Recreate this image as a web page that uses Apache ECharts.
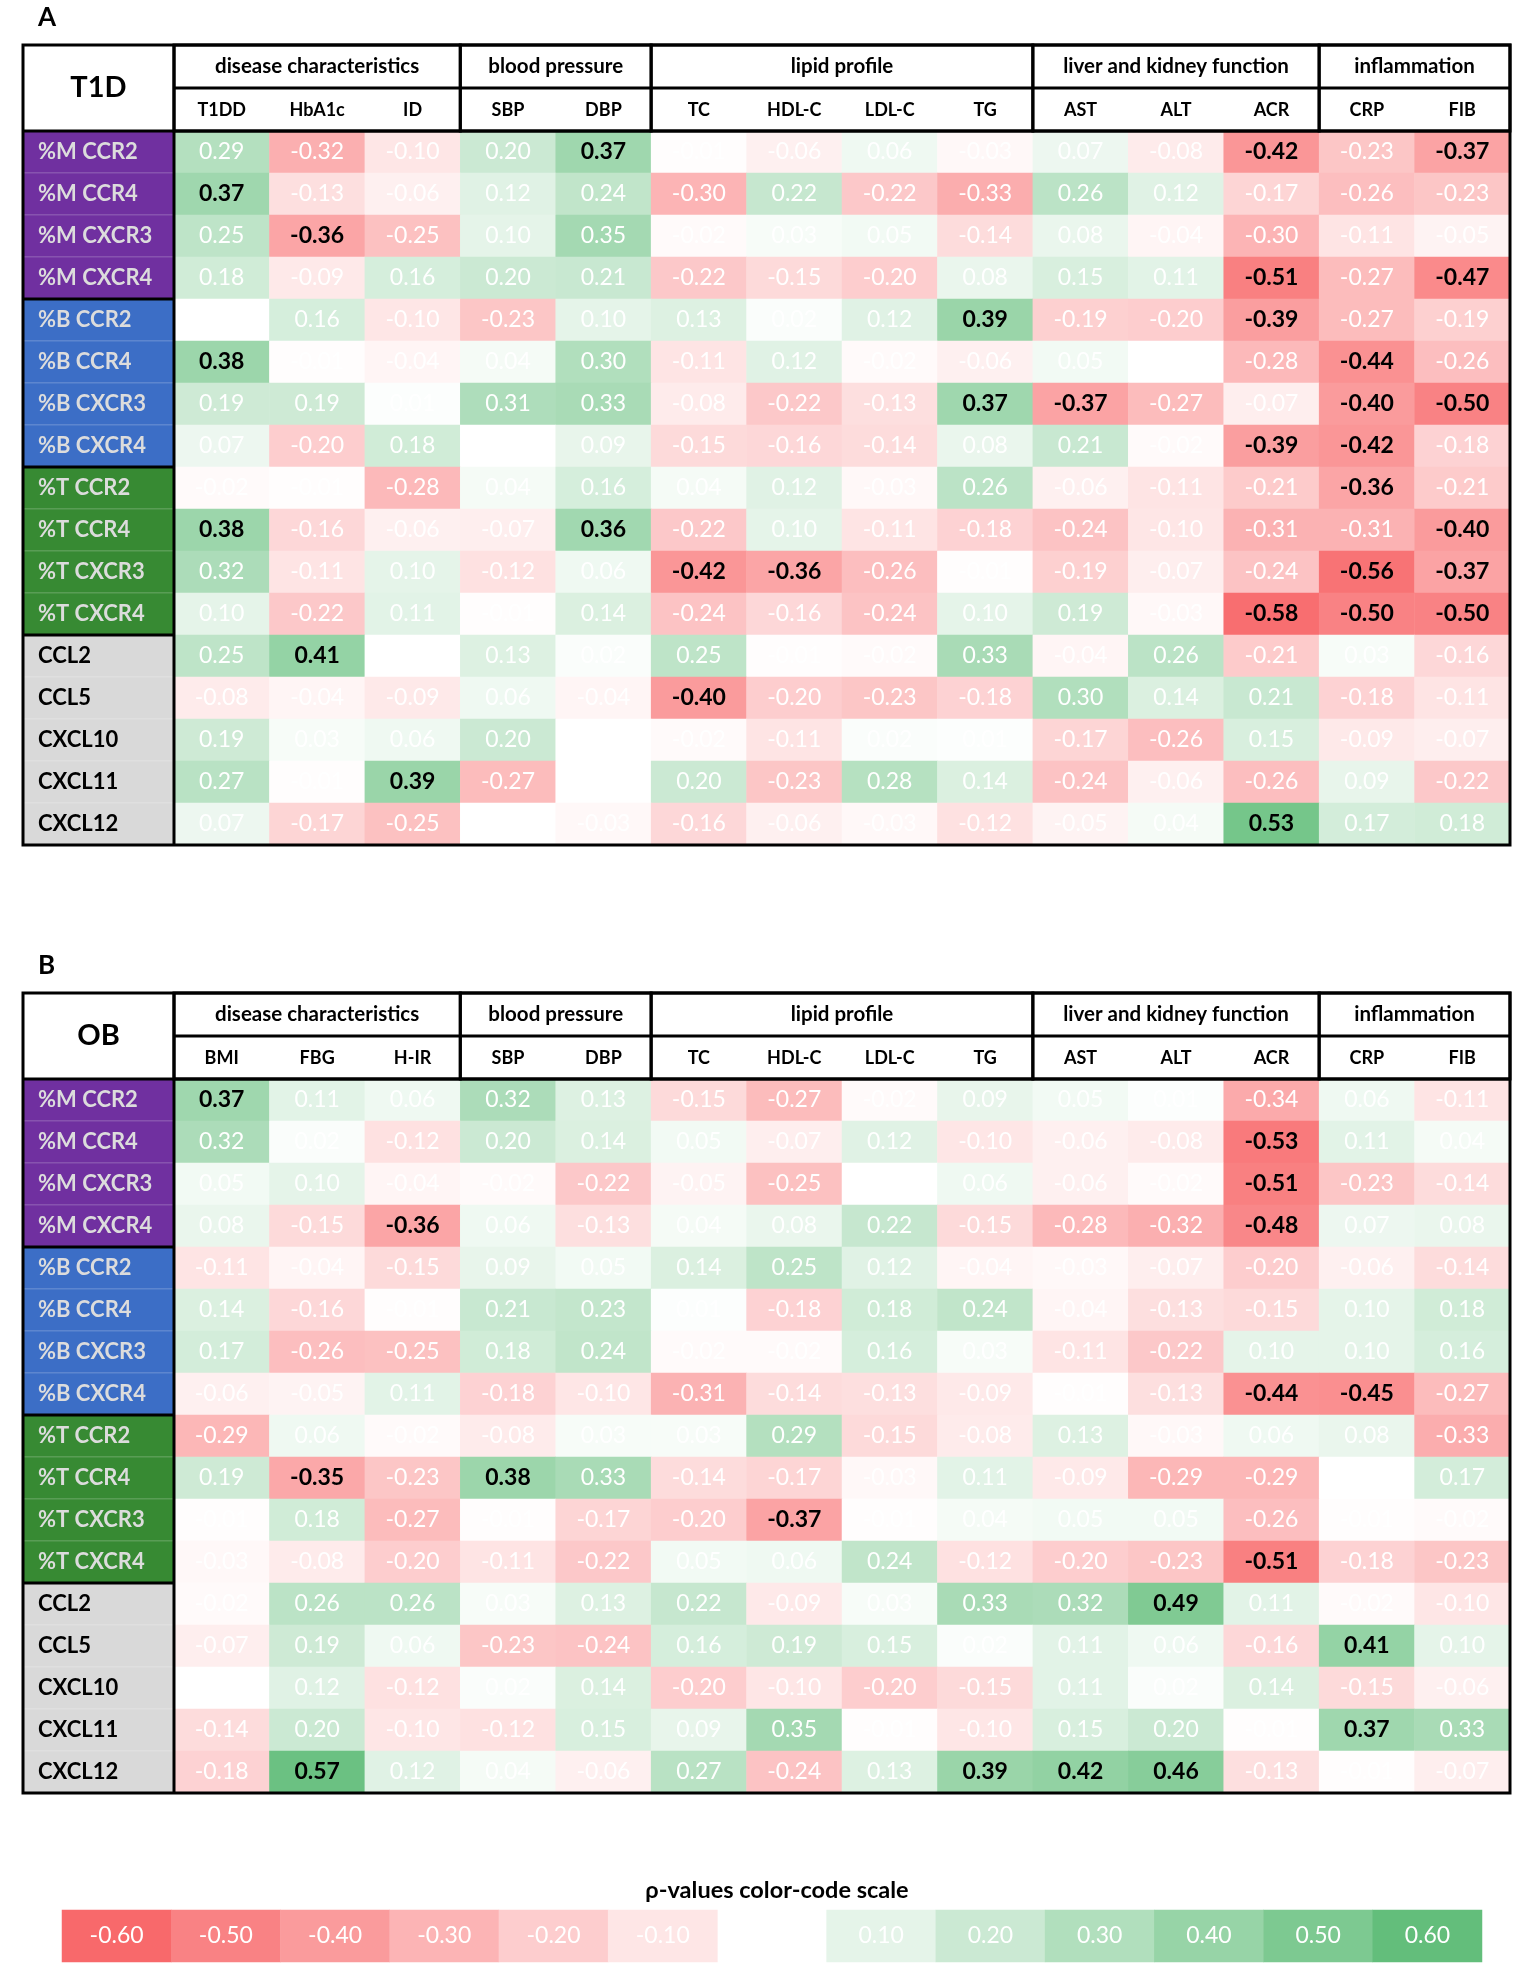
<!DOCTYPE html>
<html>
<head>
<meta charset="utf-8">
<script src="https://cdn.jsdelivr.net/npm/echarts@6/dist/echarts.min.js"></script>
<style>
  html, body { margin: 0; padding: 0; background: #fff; }
  #chart { width: 1535px; height: 1985px; }
</style>
</head>
<body>
<div id="chart"></div>
<script>
// Two correlation tables (T1D, OB) drawn as heatmaps, plus the rho colour scale.
const rowLabels = ["%M CCR2", "%M CCR4", "%M CXCR3", "%M CXCR4",
  "%B CCR2", "%B CCR4", "%B CXCR3", "%B CXCR4",
  "%T CCR2", "%T CCR4", "%T CXCR3", "%T CXCR4",
  "CCL2", "CCL5", "CXCL10", "CXCL11", "CXCL12"]
const rowGroupSizes = [4, 4, 4, 5]

const groupNames = ["disease characteristics", "blood pressure", "lipid profile",
  "liver and kidney function", "inflammation"]
const groupSizes = [3, 2, 4, 3, 2]

const colsA = ["T1DD", "HbA1c", "ID", "SBP", "DBP", "TC", "HDL-C", "LDL-C", "TG", "AST", "ALT", "ACR", "CRP", "FIB"]
const colsB = ["BMI", "FBG", "H-IR", "SBP", "DBP", "TC", "HDL-C", "LDL-C", "TG", "AST", "ALT", "ACR", "CRP", "FIB"]

const valuesA = [
  [0.29, -0.32, -0.10, 0.20, 0.37, -0.01, -0.06, 0.06, -0.03, 0.07, -0.08, -0.42, -0.23, -0.37],
  [0.37, -0.13, -0.06, 0.12, 0.24, -0.30, 0.22, -0.22, -0.33, 0.26, 0.12, -0.17, -0.26, -0.23],
  [0.25, -0.36, -0.25, 0.10, 0.35, -0.02, 0.03, 0.05, -0.14, 0.08, -0.04, -0.30, -0.11, -0.05],
  [0.18, -0.09, 0.16, 0.20, 0.21, -0.22, -0.15, -0.20, 0.08, 0.15, 0.11, -0.51, -0.27, -0.47],
  [0.00, 0.16, -0.10, -0.23, 0.10, 0.13, 0.02, 0.12, 0.39, -0.19, -0.20, -0.39, -0.27, -0.19],
  [0.38, -0.01, -0.04, 0.04, 0.30, -0.11, 0.12, -0.02, -0.06, 0.05, 0.00, -0.28, -0.44, -0.26],
  [0.19, 0.19, 0.01, 0.31, 0.33, -0.08, -0.22, -0.13, 0.37, -0.37, -0.27, -0.07, -0.40, -0.50],
  [0.07, -0.20, 0.18, 0.00, 0.09, -0.15, -0.16, -0.14, 0.08, 0.21, -0.02, -0.39, -0.42, -0.18],
  [-0.02, -0.01, -0.28, 0.04, 0.16, 0.04, 0.12, -0.03, 0.26, -0.06, -0.11, -0.21, -0.36, -0.21],
  [0.38, -0.16, -0.06, -0.07, 0.36, -0.22, 0.10, -0.11, -0.18, -0.24, -0.10, -0.31, -0.31, -0.40],
  [0.32, -0.11, 0.10, -0.12, 0.06, -0.42, -0.36, -0.26, -0.01, -0.19, -0.07, -0.24, -0.56, -0.37],
  [0.10, -0.22, 0.11, -0.01, 0.14, -0.24, -0.16, -0.24, 0.10, 0.19, -0.03, -0.58, -0.50, -0.50],
  [0.25, 0.41, 0.00, 0.13, 0.02, 0.25, -0.01, -0.02, 0.33, -0.04, 0.26, -0.21, 0.03, -0.16],
  [-0.08, -0.04, -0.09, 0.06, -0.04, -0.40, -0.20, -0.23, -0.18, 0.30, 0.14, 0.21, -0.18, -0.11],
  [0.19, 0.03, 0.06, 0.20, 0.00, -0.02, -0.11, 0.02, 0.01, -0.17, -0.26, 0.15, -0.09, -0.07],
  [0.27, -0.01, 0.39, -0.27, 0.00, 0.20, -0.23, 0.28, 0.14, -0.24, -0.06, -0.26, 0.09, -0.22],
  [0.07, -0.17, -0.25, 0.00, -0.03, -0.16, -0.06, -0.03, -0.12, -0.05, 0.04, 0.53, 0.17, 0.18],
]

const valuesB = [
  [0.37, 0.11, 0.06, 0.32, 0.13, -0.15, -0.27, -0.02, 0.09, 0.05, 0.01, -0.34, 0.06, -0.11],
  [0.32, 0.02, -0.12, 0.20, 0.14, 0.05, -0.07, 0.12, -0.10, -0.06, -0.08, -0.53, 0.11, 0.04],
  [0.05, 0.10, -0.04, -0.02, -0.22, -0.05, -0.25, 0.00, 0.06, -0.06, -0.02, -0.51, -0.23, -0.14],
  [0.08, -0.15, -0.36, 0.06, -0.13, 0.04, 0.08, 0.22, -0.15, -0.28, -0.32, -0.48, 0.07, 0.08],
  [-0.11, -0.04, -0.15, 0.09, 0.05, 0.14, 0.25, 0.12, -0.04, -0.03, -0.07, -0.20, -0.06, -0.14],
  [0.14, -0.16, -0.01, 0.21, 0.23, 0.01, -0.18, 0.18, 0.24, -0.04, -0.13, -0.15, 0.10, 0.18],
  [0.17, -0.26, -0.25, 0.18, 0.24, -0.02, -0.02, 0.16, 0.03, -0.11, -0.22, 0.10, 0.10, 0.16],
  [-0.06, -0.05, 0.11, -0.18, -0.10, -0.31, -0.14, -0.13, -0.09, -0.01, -0.13, -0.44, -0.45, -0.27],
  [-0.29, 0.06, -0.02, -0.08, 0.03, 0.03, 0.29, -0.15, -0.08, 0.13, -0.03, 0.06, 0.08, -0.33],
  [0.19, -0.35, -0.23, 0.38, 0.33, -0.14, -0.17, -0.03, 0.11, -0.09, -0.29, -0.29, 0.00, 0.17],
  [-0.01, 0.18, -0.27, -0.01, -0.17, -0.20, -0.37, -0.01, 0.04, 0.05, 0.05, -0.26, -0.01, -0.02],
  [-0.03, -0.08, -0.20, -0.11, -0.22, 0.05, 0.06, 0.24, -0.12, -0.20, -0.23, -0.51, -0.18, -0.23],
  [-0.02, 0.26, 0.26, 0.03, 0.13, 0.22, -0.09, 0.03, 0.33, 0.32, 0.49, 0.11, -0.02, -0.10],
  [-0.07, 0.19, 0.06, -0.23, -0.24, 0.16, 0.19, 0.15, 0.02, 0.11, 0.06, -0.16, 0.41, 0.10],
  [0.00, 0.12, -0.12, 0.02, 0.14, -0.20, -0.10, -0.20, -0.15, 0.11, 0.02, 0.14, -0.15, -0.06],
  [-0.14, 0.20, -0.10, -0.12, 0.15, 0.09, 0.35, -0.01, -0.10, 0.15, 0.20, -0.01, 0.37, 0.33],
  [-0.18, 0.57, 0.12, 0.04, -0.06, 0.27, -0.24, 0.13, 0.39, 0.42, 0.46, -0.13, -0.01, -0.07],
]

// bold (significant) cells: |rho| at or above the cut, minus listed exceptions
const sigCutA = 0.36
const sigCutB = 0.35
const notSigB = [[15, 6]]

// colour-code scale; null is the empty slot between the red and green halves
const scaleTicks = [-0.60, -0.50, -0.40, -0.30, -0.20, -0.10, null, 0.10, 0.20, 0.30, 0.40, 0.50, 0.60]

const FONT = "Lato, 'Open Sans', sans-serif"
const RED = "#F8696B", WHITE = "#FFFFFF", GREEN = "#63BE7B"
const GROUP_FILL = ["#7030A0", "#3C6EC6", "#378A33", "#D9D9D9"]
const GROUP_INK = ["#DCDCDC", "#DCDCDC", "#DCDCDC", "#000000"]

// layout (px)
const LEFT = 23, RIGHT = 1510, LAB_W = 151
const HEAD1 = 44, HEAD2 = 42, ROW_H = 42
const DATA_H = ROW_H * rowLabels.length
const panels = [
  {tag: "A", corner: "T1D", top: 45, cols: colsA, values: valuesA, cut: sigCutA, skip: []},
  {tag: "B", corner: "OB", top: 993, cols: colsB, values: valuesB, cut: sigCutB, skip: notSigB},
]

const rowGroup = []
const groupStart = []
rowGroupSizes.forEach((n, g) => {
  for (let k = 0; k < n; k++) { rowGroup.push(g); groupStart.push(k === 0) }
})

const colGroups = []
let acc = 0
groupNames.forEach((name, i) => {
  colGroups.push({name, value: [acc, acc + groupSizes[i]]})
  acc += groupSizes[i]
})

const grid = [], xAxis = [], yAxis = [], series = [], graphic = [], title = []
const heatIdx = []

panels.forEach((p, pi) => {
  const dataTop = p.top + HEAD1 + HEAD2
  const g0 = pi * 3

  grid.push({left: LEFT + LAB_W, top: p.top, width: RIGHT - LEFT - LAB_W, height: HEAD1 + HEAD2})
  grid.push({left: LEFT + LAB_W, top: dataTop, width: RIGHT - LEFT - LAB_W, height: DATA_H})
  grid.push({left: LEFT, top: dataTop, width: LAB_W, height: DATA_H})

  xAxis.push({gridIndex: g0, type: "value", min: 0, max: p.cols.length, show: false})
  xAxis.push({
    gridIndex: g0 + 1, type: "category", data: p.cols, position: "top",
    axisLine: {show: false}, axisTick: {show: false}, splitLine: {show: false},
    axisLabel: {color: "#000", fontFamily: FONT, fontWeight: "bold", fontSize: 18,
      margin: 21, verticalAlign: "middle", interval: 0},
  })
  xAxis.push({gridIndex: g0 + 2, type: "category", data: ["label"], show: false})

  yAxis.push({gridIndex: g0, type: "value", min: 0, max: 2, inverse: true, show: false})
  yAxis.push({gridIndex: g0 + 1, type: "category", data: rowLabels, inverse: true, show: false})
  yAxis.push({gridIndex: g0 + 2, type: "category", data: rowLabels, inverse: true, show: false})

  // group header cells
  series.push({
    type: "custom", xAxisIndex: g0, yAxisIndex: g0, silent: true, z: 5,
    data: colGroups,
    renderItem(params, api) {
      const a = api.coord([api.value(0), 0])
      const m = api.coord([api.value(1), 1])
      const b = api.coord([api.value(1), 2])
      return {type: "group", children: [
        {type: "rect", shape: {x: a[0], y: a[1], width: b[0] - a[0], height: b[1] - a[1]},
          style: {fill: "none", stroke: "#000", lineWidth: 3}},
        {type: "line", shape: {x1: a[0], y1: m[1], x2: m[0], y2: m[1]},
          style: {stroke: "#000", lineWidth: 3}},
        {type: "text", x: (a[0] + m[0]) / 2, y: (a[1] + m[1]) / 2,
          style: {text: colGroups[params.dataIndex].name, fill: "#000", fontFamily: FONT,
            fontWeight: "bold", fontSize: 20.5, align: "center", verticalAlign: "middle",
            textAlign: "center", textVerticalAlign: "middle"}},
      ]}
    },
  })

  // correlation cells
  const cells = []
  p.values.forEach((row, r) => row.forEach((v, c) => {
    const sig = Math.abs(v) >= p.cut - 1e-9 && !p.skip.some(s => s[0] === r && s[1] === c)
    cells.push(sig
      ? {value: [c, r, v], label: {color: "#000", fontWeight: "bold"}}
      : {value: [c, r, v]})
  }))
  heatIdx.push(series.length)
  series.push({
    type: "heatmap", xAxisIndex: g0 + 1, yAxisIndex: g0 + 1, data: cells,
    progressive: 0, silent: true, emphasis: {disabled: true},
    itemStyle: {borderWidth: 0},
    label: {show: true, color: "#FFFFFF", fontFamily: FONT, fontSize: 23,
      formatter: d => d.value[2].toFixed(2)},
  })

  // row label column
  series.push({
    type: "custom", xAxisIndex: g0 + 2, yAxisIndex: g0 + 2, silent: true, z: 4,
    data: rowLabels.map((name, i) => ({name, value: [0, i]})),
    renderItem(params, api) {
      const i = params.dataIndex
      const c = api.coord([0, i])
      const s = api.size([1, 1])
      const x0 = c[0] - s[0] / 2, y0 = c[1] - s[1] / 2
      const g = rowGroup[i]
      const kids = [
        {type: "rect", shape: {x: x0, y: y0, width: s[0], height: s[1]},
          style: {fill: GROUP_FILL[g], stroke: "rgba(255,255,255,0.18)", lineWidth: 1}},
        {type: "text", x: x0 + 15, y: c[1],
          style: {text: rowLabels[i], fill: GROUP_INK[g], fontFamily: FONT, fontWeight: "bold",
            fontSize: 22, align: "left", verticalAlign: "middle",
            textAlign: "left", textVerticalAlign: "middle"}},
      ]
      if (groupStart[i] && i > 0) {
        kids.push({type: "line", shape: {x1: x0, y1: y0, x2: x0 + s[0], y2: y0},
          style: {stroke: "#000", lineWidth: 3}})
      }
      return {type: "group", children: kids}
    },
  })

  // table frame and corner cell
  graphic.push(
    {type: "rect", z: 100, silent: true,
      shape: {x: LEFT, y: p.top, width: RIGHT - LEFT, height: HEAD1 + HEAD2 + DATA_H},
      style: {fill: "none", stroke: "#000", lineWidth: 3}},
    {type: "line", z: 100, silent: true,
      shape: {x1: LEFT + LAB_W, y1: p.top, x2: LEFT + LAB_W, y2: dataTop + DATA_H},
      style: {stroke: "#000", lineWidth: 3}},
    {type: "line", z: 100, silent: true,
      shape: {x1: LEFT, y1: dataTop, x2: RIGHT, y2: dataTop},
      style: {stroke: "#000", lineWidth: 3}},
    {type: "text", z: 100, silent: true, x: LEFT + LAB_W / 2, y: p.top + (HEAD1 + HEAD2) / 2,
      style: {text: p.corner, fill: "#000", fontFamily: FONT, fontWeight: "bold", fontSize: 29,
        align: "center", verticalAlign: "middle", textAlign: "center", textVerticalAlign: "middle"}},
  )

  title.push({text: p.tag, left: 33, top: p.top - 45,
    textStyle: {fontFamily: FONT, fontWeight: "bold", fontSize: 26, color: "#000"}})
})

// colour-code scale
grid.push({left: 62, top: 1910, width: 1420, height: 52})
xAxis.push({gridIndex: 6, type: "category", data: scaleTicks.map(t => t === null ? "" : t.toFixed(2)), show: false})
yAxis.push({gridIndex: 6, type: "category", data: ["rho"], show: false})
heatIdx.push(series.length)
series.push({
  type: "heatmap", xAxisIndex: 6, yAxisIndex: 6, silent: true, progressive: 0,
  emphasis: {disabled: true},
  data: scaleTicks.map((t, i) => [i, 0, t]).filter(d => d[2] !== null),
  label: {show: true, color: "#FFFFFF", fontFamily: FONT, fontSize: 23,
    formatter: d => d.value[2].toFixed(2)},
})
title.push({text: "ρ-values color-code scale", left: 772, top: 1873, textAlign: "center",
  textStyle: {fontFamily: FONT, fontWeight: "bold", fontSize: 23.5, color: "#000"}})

const chart = echarts.init(document.getElementById("chart"), null, {renderer: "canvas"})
chart.setOption({
  animation: false,
  backgroundColor: "#FFFFFF",
  title,
  grid,
  xAxis,
  yAxis,
  visualMap: {
    type: "continuous", show: false, min: -0.6, max: 0.6, dimension: 2,
    seriesIndex: heatIdx, inRange: {color: [RED, WHITE, GREEN]},
  },
  series,
  graphic,
})
</script>
</body>
</html>
